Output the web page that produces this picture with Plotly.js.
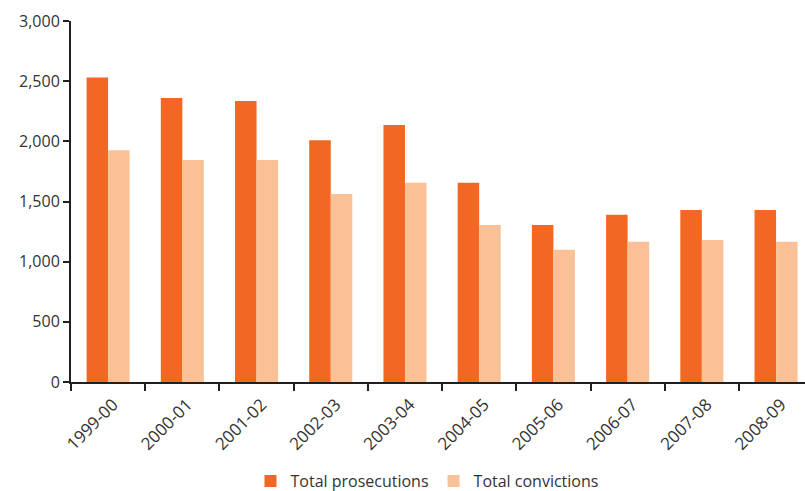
<!DOCTYPE html>
<html>
<head>
<meta charset="utf-8">
<script src="https://cdn.plot.ly/plotly-3.0.1.min.js"></script>
<style>html,body{margin:0;padding:0;background:#fff;}#chart{width:805px;height:491px;}</style>
</head>
<body>
<div id="chart"></div>
<script>
const categories = ["1999-00","2000-01","2001-02","2002-03","2003-04","2004-05","2005-06","2006-07","2007-08","2008-09"];
const prosecutions = [2530, 2360, 2335, 2010, 2135, 1655, 1305, 1390, 1430, 1430];
const convictions = [1925, 1845, 1845, 1562, 1655, 1305, 1100, 1165, 1180, 1165];
const yTickVals = [0, 500, 1000, 1500, 2000, 2500, 3000];
const yTickText = ["0", "500", "1,000", "1,500", "2,000", "2,500", "3,000"];

const font = {family: "Open Sans, Noto Sans, sans-serif", size: 16, color: "#333333"};
const xfont = {family: "Open Sans, Noto Sans, sans-serif", size: 17, color: "#333333"};

const data = [
  {type: "bar", name: "Total prosecutions", x: categories, y: prosecutions, marker: {color: "#F26722"}},
  {type: "bar", name: "Total convictions", x: categories, y: convictions, marker: {color: "#FAC197"}}
];

const layout = {
  width: 805, height: 491,
  margin: {l: 71, r: 0, t: 21, b: 109, pad: 0, autoexpand: false},
  paper_bgcolor: "#ffffff", plot_bgcolor: "#ffffff",
  font: font,
  barmode: "group",
  bargap: 0.42,
  bargroupgap: 0,
  showlegend: true,
  legend: {orientation: "h", x: 0.485, xanchor: "center", xref: "paper", y: 0.02, yanchor: "middle", yref: "container", font: font, traceorder: "normal"},
  xaxis: {
    type: "category",
    range: [-0.5, 9.39],
    automargin: false,
    showline: true, linecolor: "#231F20", linewidth: 2,
    ticks: "outside", tickson: "boundaries", ticklen: 7, tickwidth: 2, tickcolor: "#231F20",
    tickangle: -45, showgrid: false, zeroline: false,
    ticklabelshift: 5, ticklabelstandoff: 4,
    tickfont: xfont
  },
  yaxis: {
    range: [0, 3000],
    automargin: false,
    tickvals: yTickVals, ticktext: yTickText,
    showline: true, linecolor: "#231F20", linewidth: 2,
    ticks: "outside", ticklen: 6, tickwidth: 2, tickcolor: "#231F20",
    showgrid: false, zeroline: false,
    tickfont: font
  }
};

Plotly.newPlot("chart", data, layout, {displayModeBar: false, staticPlot: true});
</script>
</body>
</html>
